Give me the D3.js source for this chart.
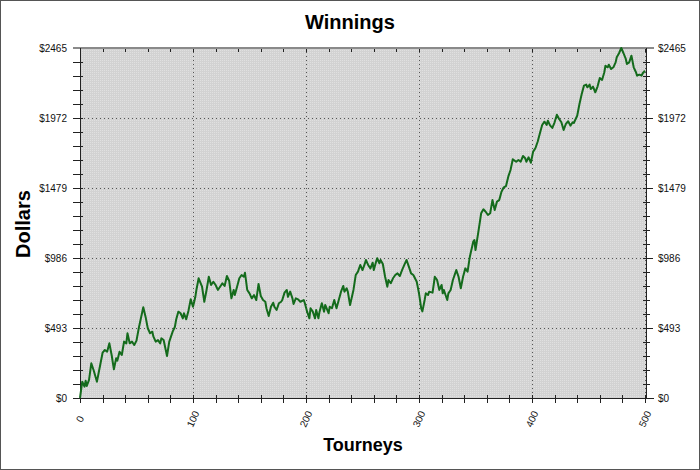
<!DOCTYPE html>
<html>
<head>
<meta charset="utf-8">
<script src="https://cdn.jsdelivr.net/npm/d3@7"></script>
<style>
  body { margin: 0; background: #fff; }
  text { font-family: "Liberation Sans", Arial, sans-serif; }
</style>
</head>
<body>
<svg id="chart"></svg>
<script>
// tourney number / cumulative winnings
const tourneys = [0,2,4,5,6,8,10,12,15,17,20,22,24,26,28,30,32,33,35,37,39,41,42,44,46,48,50,52,56,58,60,62,64,65,67,69,71,72,74,77,79,82,84,85,87,89,91,92,94,96,98,
  100,102,103,105,108,110,112,114,116,118,120,122,125,126,128,130,132,134,136,137,139,141,143,145,146,148,150,152,154,156,158,160,162,164,165,167,169,171,172,174,176,178,179,181,183,184,186,188,189,191,193,195,198,199,
  201,203,204,206,208,209,211,212,214,216,217,220,221,223,225,227,229,231,233,234,236,237,239,242,244,246,248,250,252,253,255,257,259,260,262,263,265,266,268,270,272,273,275,277,279,281,283,285,287,289,291,293,295,298,
  300,302,303,305,306,308,309,312,314,316,318,320,321,322,325,326,328,330,333,335,337,339,341,343,345,348,349,350,353,355,357,359,361,363,365,367,369,371,373,375,377,379,381,383,386,388,390,392,394,395,397,399,
  401,403,405,407,409,411,413,414,416,418,420,422,424,426,428,430,432,434,436,437,440,442,444,446,448,449,451,452,454,456,458,460,462,464,465,467,468,470,472,474,475,477,479,481,483,484,486,488,490,492,493,495,497,498,500];
const dollars = [0,115,80,122,85,127,244,197,115,197,319,338,326,385,303,202,280,263,326,303,397,385,456,385,397,373,404,491,639,573,491,456,467,432,397,408,385,420,408,296,397,467,502,549,608,597,561,597,554,615,695,
  643,709,761,843,784,678,761,854,796,819,796,761,796,808,789,859,826,702,761,725,784,843,866,854,882,761,737,702,725,690,803,718,690,678,632,578,643,671,643,620,667,678,690,742,761,713,749,702,662,702,695,678,690,667,
  608,561,632,608,561,620,561,608,667,608,655,597,643,632,690,632,690,749,789,749,773,749,655,761,866,890,937,901,944,972,937,913,953,901,960,984,949,972,944,854,784,831,808,843,866,878,859,901,937,972,925,878,866,819,
  737,630,610,690,737,725,749,742,854,831,761,796,737,761,690,737,761,831,901,854,773,854,913,890,995,1101,1113,1042,1195,1301,1329,1312,1289,1301,1394,1324,1383,1394,1453,1484,1493,1559,1606,1681,1664,1676,1664,1704,1688,1664,1695,1657,
  1735,1759,1805,1864,1923,1946,1923,1953,1920,1902,1942,1995,1965,1942,1888,1930,1949,1918,1942,1937,1988,2071,2141,2200,2207,2188,2207,2176,2193,2153,2193,2254,2240,2294,2340,2329,2347,2317,2329,2364,2400,2428,2465,2428,2388,2352,2364,2411,2329,2294,2270,2277,2270,2287,2305];

const xTicks = [0, 100, 200, 300, 400, 500];
const yTicks = [0, 493, 986, 1479, 1972, 2465];

var w = 700, h = 470;
var margin = { top: 48, right: 55, bottom: 72, left: 80 };
var plotRight = 647;

var svg = d3.select("#chart").attr("width", w).attr("height", h);

// outer frame
svg.append("rect")
  .attr("x", 0.5).attr("y", 0.5)
  .attr("width", w - 1).attr("height", h - 1)
  .attr("fill", "#fff").attr("stroke", "#555");

var xScale = d3.scaleLinear().domain([0, 500]).range([margin.left, 645]);
var yScale = d3.scaleLinear().domain([0, 2465]).range([398, margin.top]);

// dotted grey fill of the plot
var defs = svg.append("defs");
var pat = defs.append("pattern").attr("id", "dots")
  .attr("width", 2).attr("height", 2).attr("patternUnits", "userSpaceOnUse");
pat.append("rect").attr("width", 2).attr("height", 2).attr("fill", "#d2d2d2");
pat.append("rect").attr("width", 1).attr("height", 1).attr("fill", "#e0e0e0");

svg.append("rect")
  .attr("x", margin.left).attr("y", margin.top)
  .attr("width", plotRight - margin.left).attr("height", 398 - margin.top)
  .attr("fill", "url(#dots)");

// grid
svg.append("g")
  .selectAll("line")
  .data(xTicks.slice(1))
  .join("line")
    .attr("x1", d => xScale(d) + 0.5).attr("x2", d => xScale(d) + 0.5)
    .attr("y1", margin.top).attr("y2", 398)
    .attr("stroke", "#555").attr("stroke-dasharray", "1,3");

svg.append("g")
  .selectAll("line")
  .data(yTicks.slice(1, -1))
  .join("line")
    .attr("x1", margin.left).attr("x2", plotRight)
    .attr("y1", d => Math.round(yScale(d)) + 0.5).attr("y2", d => Math.round(yScale(d)) + 0.5)
    .attr("stroke", "#555").attr("stroke-dasharray", "1,3");

// minor ticks: every 20 tourneys, every fifth of a y step
var xMinor = d3.range(0, 501, 20);
var yMinor = d3.range(0, 26).map(i => i * 2465 / 25);

var tickG = svg.append("g").attr("stroke", "#222").attr("shape-rendering", "crispEdges");
tickG.selectAll(".bx").data(xMinor).join("line")
  .attr("x1", d => Math.round(xScale(d))).attr("x2", d => Math.round(xScale(d)))
  .attr("y1", 395).attr("y2", 403);
tickG.selectAll(".tx").data(xMinor).join("line")
  .attr("x1", d => Math.round(xScale(d))).attr("x2", d => Math.round(xScale(d)))
  .attr("y1", margin.top).attr("y2", margin.top + 4);
tickG.selectAll(".ly").data(yMinor).join("line")
  .attr("x1", 73).attr("x2", 83)
  .attr("y1", d => Math.round(yScale(d))).attr("y2", d => Math.round(yScale(d)));
tickG.selectAll(".ry").data(yMinor).join("line")
  .attr("x1", 643).attr("x2", d => yTicks.includes(d) ? 653 : 650)
  .attr("y1", d => Math.round(yScale(d))).attr("y2", d => Math.round(yScale(d)));

// axis lines
svg.append("line").attr("x1", 73).attr("x2", 654).attr("y1", 398.5).attr("y2", 398.5).attr("stroke", "#222");
svg.append("line").attr("x1", 73).attr("x2", 654).attr("y1", 48).attr("y2", 48).attr("stroke", "#8a8a8a").attr("stroke-width", 2);
svg.append("line").attr("x1", 80.5).attr("x2", 80.5).attr("y1", 48).attr("y2", 398).attr("stroke", "#222");
svg.append("line").attr("x1", 646.5).attr("x2", 646.5).attr("y1", 48).attr("y2", 398).attr("stroke", "#222");

// the winnings line
var line = d3.line()
  .x((d, i) => xScale(tourneys[i]))
  .y(d => yScale(d));

svg.append("path")
  .datum(dollars)
  .attr("fill", "none")
  .attr("stroke", "#146b1c")
  .attr("stroke-width", 2)
  .attr("stroke-linejoin", "round")
  .attr("d", line);

// labels
svg.append("g").selectAll("text").data(yTicks).join("text")
  .attr("x", 67).attr("y", d => yScale(d) + 3.5)
  .attr("text-anchor", "end").attr("font-size", 10).attr("fill", "#111")
  .text(d => "$" + d);

svg.append("g").selectAll("text").data(yTicks).join("text")
  .attr("x", 658).attr("y", d => yScale(d) + 3.5)
  .attr("text-anchor", "start").attr("font-size", 10).attr("fill", "#111")
  .text(d => "$" + d);

svg.append("g").selectAll("text").data(xTicks).join("text")
  .attr("transform", d => `translate(${xScale(d)},${419}) rotate(-65)`)
  .attr("text-anchor", "middle").attr("font-size", 10).attr("fill", "#111")
  .attr("dy", "0.35em")
  .text(d => d);

svg.append("text")
  .attr("x", 350).attr("y", 29)
  .attr("text-anchor", "middle").attr("font-size", 20).attr("font-weight", "bold")
  .text("Winnings");

svg.append("text")
  .attr("x", 363).attr("y", 451)
  .attr("text-anchor", "middle").attr("font-size", 18).attr("font-weight", "bold")
  .text("Tourneys");

svg.append("text")
  .attr("transform", "translate(30,224) rotate(-90)")
  .attr("text-anchor", "middle").attr("font-size", 20).attr("font-weight", "bold")
  .text("Dollars");
</script>
</body>
</html>
